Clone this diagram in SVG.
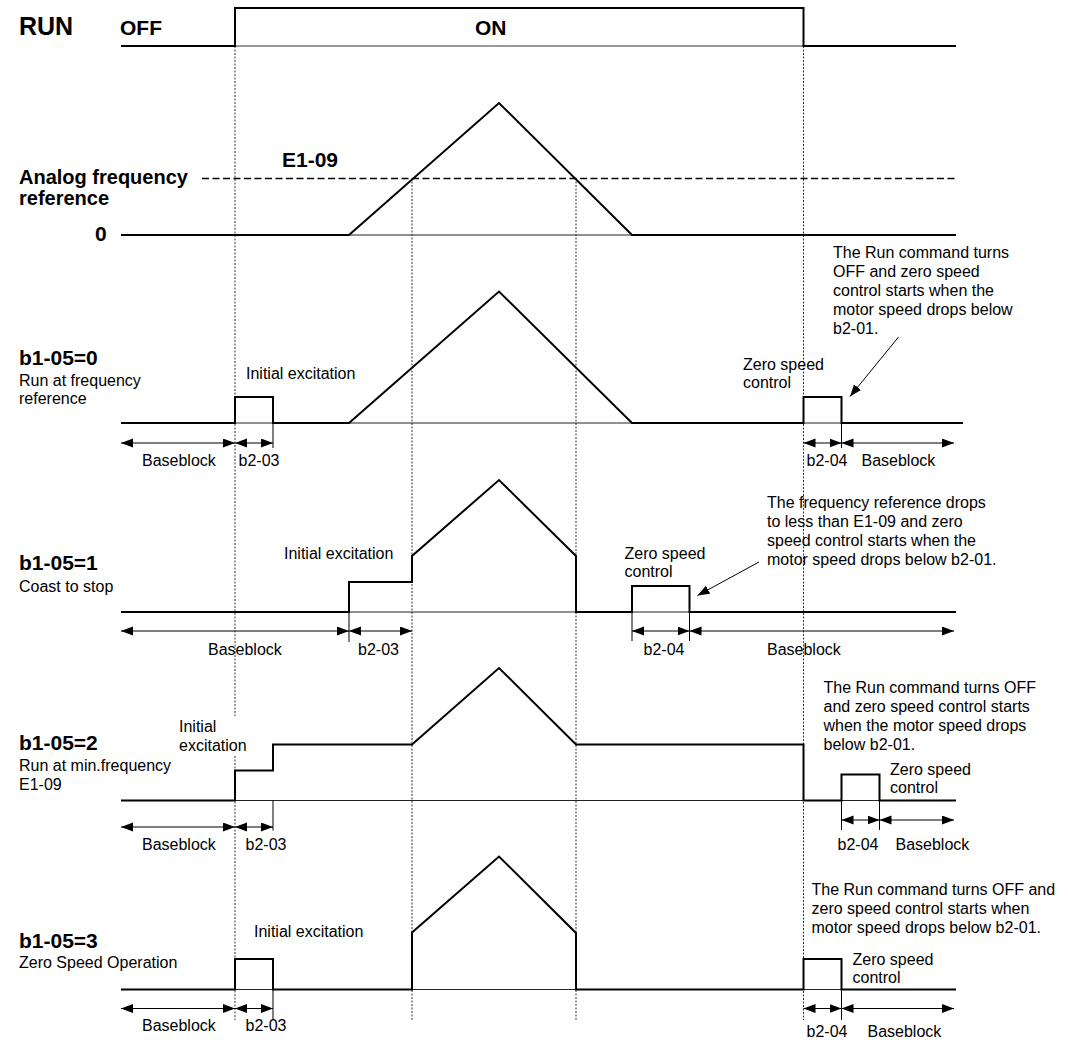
<svg xmlns="http://www.w3.org/2000/svg" width="1068" height="1043" viewBox="0 0 1068 1043">
<style>
text{font-family:"Liberation Sans",Arial,sans-serif;fill:#000}
.b{font-weight:bold;font-size:21px}
.t{font-size:16px}
.wave{fill:none;stroke:#000;stroke-width:2;stroke-linejoin:miter}
.axis{fill:none;stroke:#222;stroke-width:1}
.grid{fill:none;stroke:#333;stroke-width:1;stroke-dasharray:2 1.5}
.dash{fill:none;stroke:#000;stroke-width:1.3;stroke-dasharray:7 3.5}
.dim{fill:none;stroke:#000;stroke-width:1;marker-start:url(#ah);marker-end:url(#ah)}
.tick{fill:none;stroke:#000;stroke-width:1}
.call{fill:none;stroke:#000;stroke-width:1;marker-end:url(#ah)}
</style>
<defs>
<marker id="ah" markerUnits="userSpaceOnUse" markerWidth="13" markerHeight="10" refX="12" refY="4.5" orient="auto-start-reverse">
<path d="M0,0 L12,4.5 L0,9 z" fill="#000"/>
</marker>
</defs>
<rect width="1068" height="1043" fill="#fff"/>

<g id="grid">
<path class="grid" d="M235,46 V716 M235,756 V1020"/>
<path class="grid" d="M412,178 V1020"/>
<path class="grid" d="M576,178 V1020"/>
<path class="grid" d="M803.5,46 V1020"/>
</g>

<g id="run">
<text x="19" y="35" style="font-weight:bold;font-size:25px">RUN</text>
<text class="b" x="120" y="35">OFF</text>
<text class="b" x="475" y="35">ON</text>
<path d="M235,46 H803.5" stroke="#777" stroke-width="1.5" fill="none"/>
<path class="wave" d="M121,46 H235 V8 H803.5 V46 H956"/>
</g>

<g id="analog">
<text class="b" x="282" y="167">E1-09</text>
<text class="b" x="19" y="184" style="font-size:20px">Analog frequency</text>
<text class="b" x="19" y="205" style="font-size:20px">reference</text>
<text class="b" x="95" y="241">0</text>
<path class="dash" d="M202,178.5 H956"/>
<path class="axis" d="M121,235 H956"/>
<path class="wave" d="M121,235 H349 L499,103 L632,235 H956"/>
</g>

<g id="row0">
<text class="b" x="19" y="365">b1-05=0</text>
<text class="t" x="19" y="385.5">Run at frequency</text>
<text class="t" x="19" y="404">reference</text>
<text class="t" x="246" y="379">Initial excitation</text>
<text class="t" x="743" y="370">Zero speed</text>
<text class="t" x="743" y="388">control</text>
<text class="t" x="833"><tspan x="833" y="258">The Run command turns</tspan><tspan x="833" y="277">OFF and zero speed</tspan><tspan x="833" y="296">control starts when the</tspan><tspan x="833" y="315">motor speed drops below</tspan><tspan x="833" y="334">b2-01.</tspan></text>
<path class="axis" d="M121,423 H963"/>
<path class="wave" d="M121,423 H235 V397 H273 V423 H349 L499,291.5 L632,423 H803.5 V397 H841.5 V423 H963"/>
<text class="t" x="142" y="466">Baseblock</text>
<text class="t" x="238.5" y="466">b2-03</text>
<text class="t" x="806.5" y="466">b2-04</text>
<text class="t" x="861.5" y="466">Baseblock</text>
</g>

<g id="row1">
<text class="b" x="19" y="570">b1-05=1</text>
<text class="t" x="19" y="591.5">Coast to stop</text>
<text class="t" x="284" y="559">Initial excitation</text>
<text class="t" x="624.5" y="559">Zero speed</text>
<text class="t" x="624.5" y="577">control</text>
<text class="t" x="767"><tspan x="767" y="508">The frequency reference drops</tspan><tspan x="767" y="527">to less than E1-09 and zero</tspan><tspan x="767" y="546">speed control starts when the</tspan><tspan x="767" y="565">motor speed drops below b2-01.</tspan></text>
<path class="axis" d="M121,612 H956"/>
<path class="wave" d="M121,612 H349 V582 H412 V556 L499,480 L576,556 V612 H632 V586 H689.5 V612 H956"/>
<text class="t" x="208" y="655">Baseblock</text>
<text class="t" x="358" y="655">b2-03</text>
<text class="t" x="643.5" y="655">b2-04</text>
<text class="t" x="767" y="655">Baseblock</text>
</g>

<g id="row2">
<text class="b" x="19" y="750">b1-05=2</text>
<text class="t" x="19" y="770.5">Run at min.frequency</text>
<text class="t" x="19" y="790">E1-09</text>
<text class="t" x="179" y="731.5">Initial</text>
<text class="t" x="179" y="750.5">excitation</text>
<text class="t" x="890" y="775">Zero speed</text>
<text class="t" x="890" y="793">control</text>
<text class="t" x="823.5"><tspan x="823.5" y="693">The Run command turns OFF</tspan><tspan x="823.5" y="712">and zero speed control starts</tspan><tspan x="823.5" y="731">when the motor speed drops</tspan><tspan x="823.5" y="750">below b2-01.</tspan></text>
<path class="axis" d="M121,800.5 H956"/>
<path class="wave" d="M121,800.5 H235 V770.5 H273 V744.5 H412 L499,668 L576,744.5 H803.5 V800.5 H841.5 V774.5 H879.5 V800.5 H956"/>
<text class="t" x="142" y="850">Baseblock</text>
<text class="t" x="245.5" y="850">b2-03</text>
<text class="t" x="837.5" y="850">b2-04</text>
<text class="t" x="895.5" y="850">Baseblock</text>
</g>

<g id="row3">
<text class="b" x="19" y="948">b1-05=3</text>
<text class="t" x="19" y="968">Zero Speed Operation</text>
<text class="t" x="254" y="937">Initial excitation</text>
<text class="t" x="852.5" y="965">Zero speed</text>
<text class="t" x="852.5" y="983">control</text>
<text class="t" x="811.5"><tspan x="811.5" y="895">The Run command turns OFF and</tspan><tspan x="811.5" y="914">zero speed control starts when</tspan><tspan x="811.5" y="933">motor speed drops below b2-01.</tspan></text>
<path class="axis" d="M121,989.5 H956"/>
<path class="wave" d="M121,989.5 H235 V959 H273 V989.5 H412 V932.5 L499,856.5 L576,933 V989.5 H803.5 V959 H841.5 V989.5 H956"/>
<text class="t" x="142" y="1030.5">Baseblock</text>
<text class="t" x="245.5" y="1030.5">b2-03</text>
<text class="t" x="806.5" y="1036.5">b2-04</text>
<text class="t" x="867.5" y="1036.5">Baseblock</text>
</g>

<g id="connectors">
<path class="tick" d="M273,423 V448 M841.5,423 V448"/>
<path class="dim" d="M121,443 H235"/>
<path class="dim" d="M235,443 H273"/>
<path class="dim" d="M803.5,443 H841.5"/>
<path class="dim" d="M841.5,443 H954"/>
<path class="call" d="M898.5,337 L850,396.5"/>

<path class="tick" d="M349,612 V642 M632,612 V641 M689.5,612 V641"/>
<path class="dim" d="M121,631 H349"/>
<path class="dim" d="M349,631 H412"/>
<path class="dim" d="M632,631 H689.5"/>
<path class="dim" d="M689.5,631 H954"/>
<path class="call" d="M759,562 L697.5,595.5"/>

<path class="tick" d="M273,800.5 V830.5 M841.5,800.5 V830 M879.5,800.5 V830"/>
<path class="dim" d="M121,827 H235"/>
<path class="dim" d="M235,827 H273"/>
<path class="dim" d="M841.5,820 H879.5"/>
<path class="dim" d="M879.5,820 H954"/>

<path class="tick" d="M273,989.5 V1020 M841.5,989.5 V1020"/>
<path class="dim" d="M121,1008.5 H235"/>
<path class="dim" d="M235,1008.5 H273"/>
<path class="dim" d="M803.5,1008.5 H841.5"/>
<path class="dim" d="M841.5,1008.5 H954"/>
</g>
</svg>
